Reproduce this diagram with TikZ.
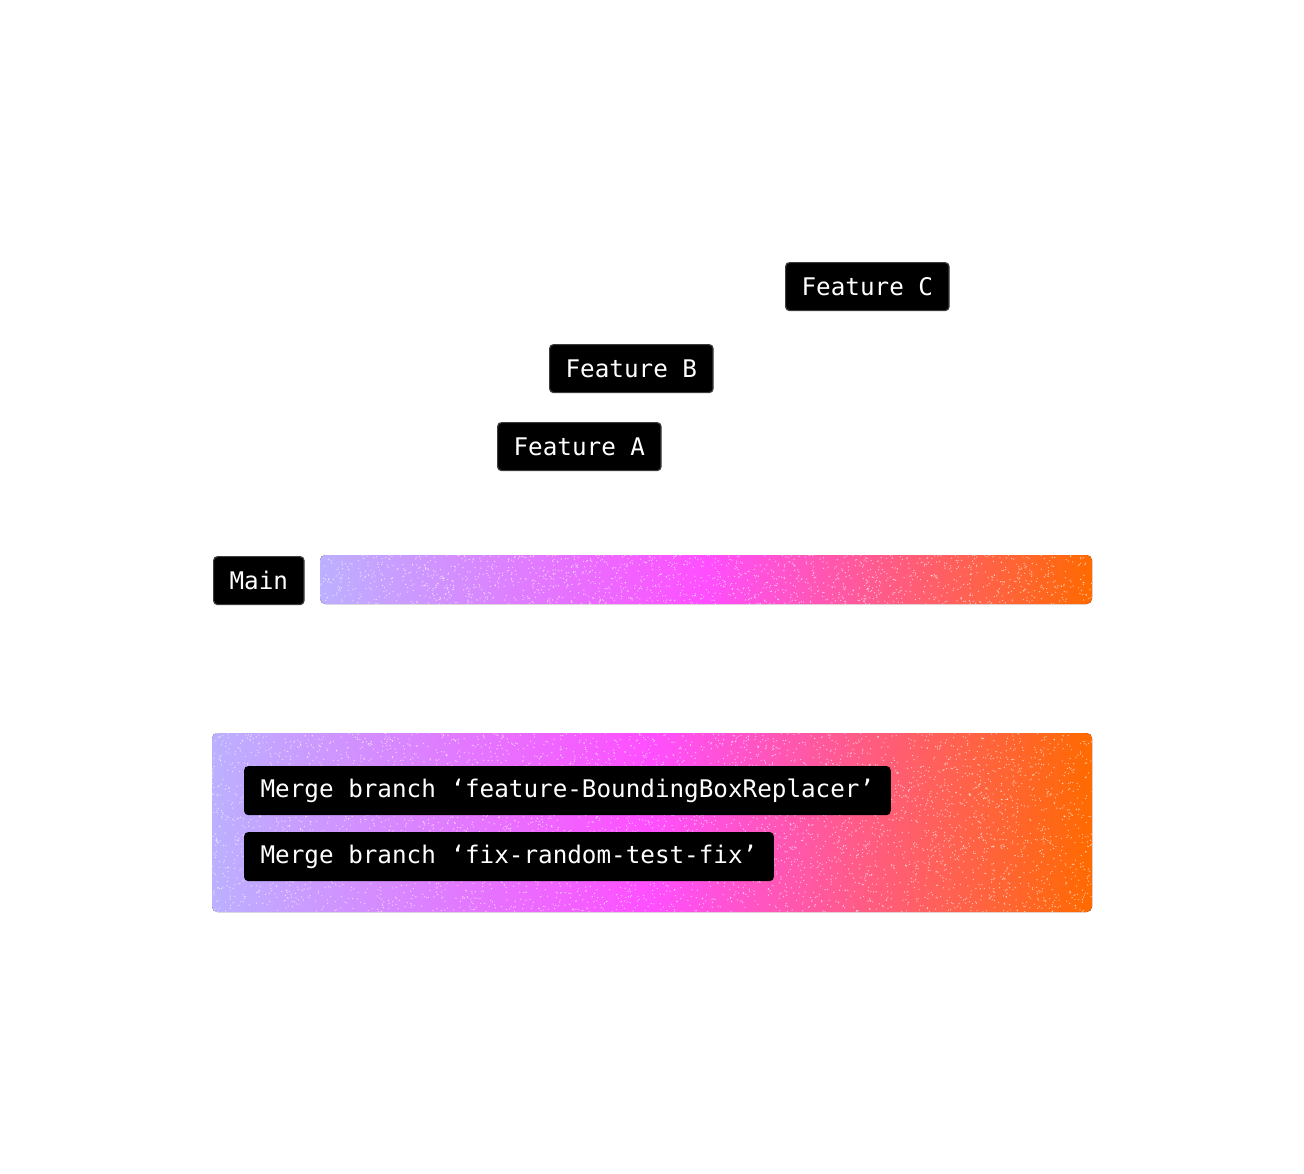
\documentclass[tikz,border=0pt]{standalone}
\usepackage{fontspec}
\setmonofont{DejaVu Sans Mono}
\definecolor{lav}{RGB}{188,176,255}
\definecolor{mag}{RGB}{255,78,255}
\definecolor{org}{RGB}{255,106,0}
\definecolor{edge}{RGB}{60,60,60}
\tikzset{
	tag/.style={fill=black, draw=edge, line width=0.9pt, rounded corners=3pt, text=white,
		font=\ttfamily\fontsize{18.2}{20}\selectfont, inner xsep=12pt, inner ysep=0pt,
		minimum height=36pt, anchor=north west},
	speck/.style={white, opacity=0.6},
	grad/.style={left color=lav, right color=org, middle color=mag, rounded corners=4pt}
}
\begin{document}
\begin{tikzpicture}[x=0.75pt, y=-0.75pt]
	\useasboundingbox (0, 0) rectangle (1304, 1174);
	% Branch tags:
	\node[tag] (featc) at (785, 262) {Feature C};
	\node[tag] (featb) at (549, 344) {Feature B};
	\node[tag] (feata) at (497, 422) {Feature A};
	\node[tag] (main) at (213, 556) {Main};
	% Main bar:
	\fill[grad] (320, 555) rectangle (1092, 604);
	\begin{scope}
		\clip[rounded corners=4pt] (320, 555) rectangle (1092, 604);
		\pgfmathsetseed{7}
		\foreach \i in {1,...,1500} {
			\fill[speck] ({320+772*rnd}, {555+49*rnd}) circle (0.7);
		}
	\end{scope}
	% Merge box:
	\fill[grad] (212, 733) rectangle (1092, 912);
	\begin{scope}
		\clip[rounded corners=4pt] (212, 733) rectangle (1092, 912);
		\pgfmathsetseed{11}
		\foreach \i in {1,...,5000} {
			\fill[speck] ({212+880*rnd}, {733+179*rnd}) circle (0.7);
		}
	\end{scope}
	\node[tag, draw=black] (merge1) at (244, 766) {Merge branch ‘feature-BoundingBoxReplacer’};
	\node[tag, draw=black] (merge2) at (244, 832) {Merge branch ‘fix-random-test-fix’};
\end{tikzpicture}
\end{document}
